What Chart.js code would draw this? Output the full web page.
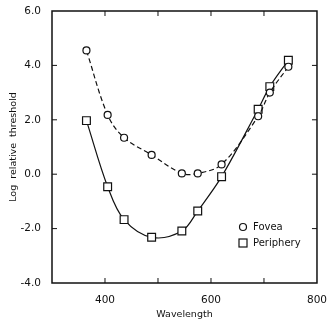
<!DOCTYPE html>
<html>
<head>
<meta charset="utf-8">
<script src="https://cdn.jsdelivr.net/npm/chart.js@4/dist/chart.umd.min.js"></script>
<style>
  html, body { margin: 0; padding: 0; background: #fff; }
  #wrap { width: 330px; height: 320px; }
</style>
</head>
<body>
<div id="wrap"><canvas id="chart" width="330" height="320"></canvas></div>
<script>
// Data
const wavelengths = [365, 405, 436, 488, 545, 575, 620, 689, 711, 746];
const fovea = [4.55, 2.18, 1.34, 0.71, 0.03, 0.03, 0.36, 2.13, 3.0, 3.95];
const periphery = [1.97, -0.46, -1.67, -2.32, -2.09, -1.35, -0.09, 2.39, 3.22, 4.19];
const xLabels = [400, 600, 800];
const legendLabels = ['Fovea', 'Periphery'];

const FONT = 'DejaVu Sans';

function points(xs, ys) {
    return xs.map((x, i) => ({ x: x, y: ys[i] }));
}

// inward ticks + frame + legend inside the plot
const decorations = {
    id: 'decorations',
    afterDraw(chart) {
        const ctx = chart.ctx;
        const a = chart.chartArea;
        const xs = chart.scales.x, ys = chart.scales.y;
        ctx.save();
        ctx.strokeStyle = '#111';
        ctx.lineWidth = 1.5;
        ctx.strokeRect(a.left, a.top, a.right - a.left, a.bottom - a.top);
        ctx.lineWidth = 1;
        for (let v = 400; v < 800; v += 100) {
            const px = xs.getPixelForValue(v);
            ctx.beginPath();
            ctx.moveTo(px, a.bottom); ctx.lineTo(px, a.bottom - 5);
            ctx.moveTo(px, a.top); ctx.lineTo(px, a.top + 5);
            ctx.stroke();
        }
        for (let v = -2; v < 6; v += 2) {
            const py = ys.getPixelForValue(v);
            ctx.beginPath();
            ctx.moveTo(a.left, py); ctx.lineTo(a.left + 5, py);
            ctx.moveTo(a.right, py); ctx.lineTo(a.right - 5, py);
            ctx.stroke();
        }
        // legend
        ctx.fillStyle = '#fff';
        ctx.lineWidth = 1.2;
        ctx.beginPath();
        ctx.arc(243, 227, 3.5, 0, Math.PI * 2);
        ctx.fill(); ctx.stroke();
        ctx.fillRect(239, 239, 8, 8);
        ctx.strokeRect(239, 239, 8, 8);
        ctx.fillStyle = '#111';
        ctx.font = '10px "' + FONT + '"';
        ctx.textBaseline = 'middle';
        ctx.fillText(legendLabels[0], 253, 227);
        ctx.fillText(legendLabels[1], 253, 243);
        ctx.restore();
    }
};

new Chart(document.getElementById('chart'), {
    type: 'scatter',
    data: {
        datasets: [
            {
                label: legendLabels[0],
                data: points(wavelengths, fovea),
                showLine: true,
                borderColor: '#111',
                borderWidth: 1.2,
                borderDash: [5, 3],
                tension: 0.35,
                pointStyle: 'circle',
                pointRadius: 3.5,
                pointBackgroundColor: '#fff',
                pointBorderColor: '#111',
                pointBorderWidth: 1.2
            },
            {
                label: legendLabels[1],
                data: points(wavelengths, periphery),
                showLine: true,
                borderColor: '#111',
                borderWidth: 1.2,
                tension: 0.35,
                pointStyle: 'rect',
                pointRadius: 5.5,
                pointBackgroundColor: '#fff',
                pointBorderColor: '#111',
                pointBorderWidth: 1.2
            }
        ]
    },
    options: {
        responsive: false,
        animation: false,
        layout: { padding: { top: 11, right: 10, left: 0, bottom: 0 } },
        plugins: { legend: { display: false }, tooltip: { enabled: false } },
        scales: {
            x: {
                type: 'linear',
                min: 300,
                max: 800,
                afterBuildTicks(scale) {
                    scale.ticks = xLabels.map(v => ({ value: v }));
                },
                ticks: {
                    color: '#111',
                    font: { family: FONT, size: 10.5 },
                    padding: 3,
                    maxRotation: 0
                },
                grid: { display: false },
                border: { display: false },
                title: {
                    display: true,
                    text: 'Wavelength',
                    color: '#111',
                    font: { family: FONT, size: 9.5 },
                    padding: { top: 2, bottom: 0 }
                },
                afterFit(scale) { scale.height = 37; }
            },
            y: {
                min: -4,
                max: 6,
                ticks: {
                    stepSize: 2,
                    color: '#111',
                    font: { family: FONT, size: 10.5 },
                    padding: 3,
                    callback: v => v.toFixed(1)
                },
                grid: { display: false },
                border: { display: false },
                title: {
                    display: true,
                    text: 'Log  relative  threshold',
                    color: '#111',
                    font: { family: FONT, size: 9.5 },
                    padding: { top: 8, bottom: 4 }
                },
                afterFit(scale) { scale.width = 52; }
            }
        }
    },
    plugins: [decorations]
});
</script>
</body>
</html>
